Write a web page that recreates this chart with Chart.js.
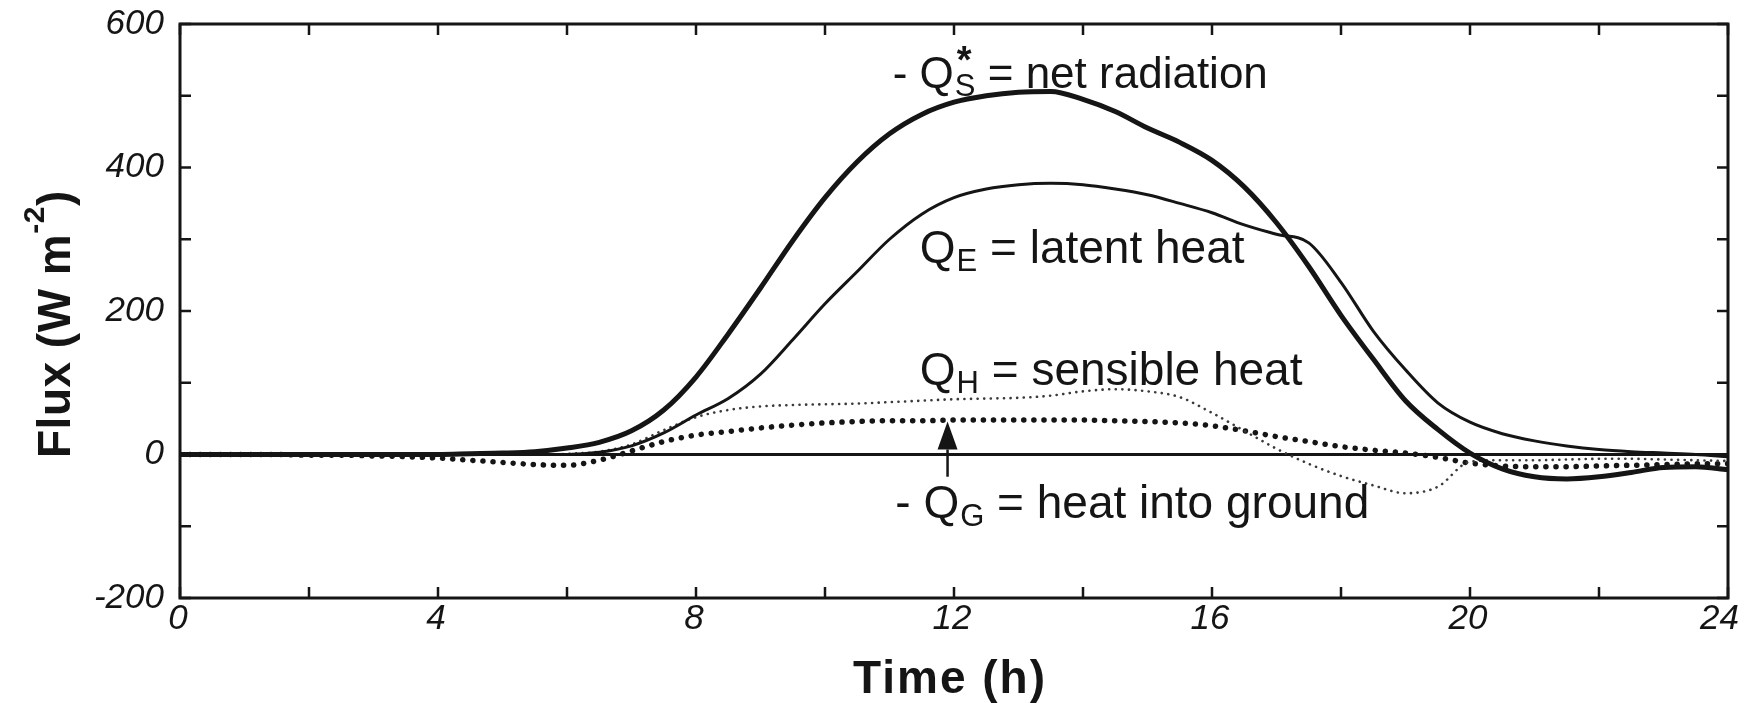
<!DOCTYPE html>
<html>
<head>
<meta charset="utf-8">
<style>
  html, body { margin: 0; padding: 0; background: #ffffff; }
  #wrap { width: 1745px; height: 703px; }
</style>
<script src="https://cdn.jsdelivr.net/npm/chart.js@4.4.1/dist/chart.umd.min.js"></script>
</head>
<body>
<div id="wrap"><canvas id="c" width="1745" height="703"></canvas></div>
<script>
// ---- data ----
const hours = [0,0.5,1,1.5,2,2.5,3,3.5,4,4.5,5,5.5,6,6.5,7,7.5,8,8.5,9,9.5,10,10.5,11,11.5,12,12.5,13,13.5,14,14.5,15,15.5,16,16.5,17,17.5,18,18.5,19,19.5,20,20.5,21,21.5,22,22.5,23,23.5,24];
const netRadiation = [0,0,0,0,0,0,0,0,0,1,2,4,9,17,33,62,108,168,232,298,358,408,447,474,491,500,505,506,495,478,455,435,410,373,323,262,194,133,75,35,2,-20,-31,-34,-31,-25,-18,-17,-21];
const latentHeat = [0,0,0,0,0,0,0,0,0,0,0,0,0,3,12,30,55,78,112,160,210,255,300,335,358,370,376,378,376,370,362,350,337,320,307,295,240,172,118,72,45,29,19,12,7,4,2,0,-3];
const sensibleHeat = [0,0,0,0,0,0,0,0,0,0,0,0,1,4,14,34,52,62,67,69,70,71,73,75,77,78,79,82,88,91,88,80,58,33,8,-13,-30,-43,-54,-45,-10,-8,-8,-7,-6,-6,-7,-8,-9];
const groundHeat = [0,0,0,0,-1,-1,-2,-3,-5,-8,-11,-14,-15,-8,5,18,27,32,37,41,44,46,47,47,48,48,48,48,48,47,46,44,40,33,25,18,11,6,2,-4,-12,-16,-17,-17,-16,-15,-14,-13,-13];
const xTickLabels = [0,4,8,12,16,20,24];
const yTickLabels = [-200,0,200,400,600];

// annotation texts, anchored in data units (hour, flux)
const labelNet    = {x: 11.05, y: 511, pre: '- Q', sub: 'S', post: ' = net radiation', star: true};
const labelLatent = {x: 11.47, y: 267, pre: 'Q', sub: 'E', post: ' = latent heat'};
const labelSens   = {x: 11.47, y: 97,  pre: 'Q', sub: 'H', post: ' = sensible heat'};
const labelGround = {x: 11.09, y: -88, pre: '- Q', sub: 'G', post: ' = heat into ground'};
const arrowQG = {x: 11.9, from: -31, base: 7, tip: 46};

const INK = '#151515';
const pts = arr => hours.map((h, i) => ({x: h, y: arr[i]}));
const FAM = '"Liberation Sans", Arial, sans-serif';

const decor = {
  id: 'decor',
  beforeDatasetsDraw(chart) {
    const {ctx, chartArea: a, scales: {x, y}} = chart;
    ctx.save();
    ctx.strokeStyle = INK; ctx.lineWidth = 3;
    const y0 = y.getPixelForValue(0);
    ctx.beginPath(); ctx.moveTo(a.left, y0); ctx.lineTo(a.right, y0); ctx.stroke();
    ctx.restore();
  },
  afterDraw(chart) {
    const {ctx, chartArea: a, scales: {x, y}} = chart;
    ctx.save();
    ctx.strokeStyle = INK; ctx.fillStyle = INK;
    // frame
    ctx.lineWidth = 3;
    ctx.strokeRect(a.left, a.top, a.right - a.left, a.bottom - a.top);
    // inward ticks
    ctx.lineWidth = 2.5;
    const tl = 11;
    for (let h = x.min; h <= x.max; h += 2) {
      const px = x.getPixelForValue(h);
      ctx.beginPath();
      ctx.moveTo(px, a.bottom); ctx.lineTo(px, a.bottom - tl);
      ctx.moveTo(px, a.top); ctx.lineTo(px, a.top + tl);
      ctx.stroke();
    }
    for (let v = y.min; v <= y.max; v += 100) {
      const py = y.getPixelForValue(v);
      ctx.beginPath();
      ctx.moveTo(a.left, py); ctx.lineTo(a.left + tl, py);
      ctx.moveTo(a.right, py); ctx.lineTo(a.right - tl, py);
      ctx.stroke();
    }
    // x tick labels (kept inside the page at the right edge)
    ctx.font = 'italic 35px ' + FAM;
    ctx.textAlign = 'center'; ctx.textBaseline = 'alphabetic';
    for (const v of xTickLabels) {
      const s = String(v);
      const w = ctx.measureText(s).width;
      const cx = Math.min(x.getPixelForValue(v) - 2, chart.width - w / 2 - 6);
      ctx.fillText(s, cx, a.bottom + 31);
    }

    // arrow for -QG
    const ax = x.getPixelForValue(arrowQG.x);
    const yFrom = y.getPixelForValue(arrowQG.from);
    const yBase = y.getPixelForValue(arrowQG.base);
    const yTip = y.getPixelForValue(arrowQG.tip);
    ctx.lineWidth = 2.5;
    ctx.beginPath(); ctx.moveTo(ax, yFrom); ctx.lineTo(ax, yBase); ctx.stroke();
    ctx.beginPath();
    ctx.moveTo(ax, yTip); ctx.lineTo(ax - 10, yBase); ctx.lineTo(ax + 10, yBase); ctx.closePath();
    ctx.fill();

    // annotation labels
    const subFont = '31px ' + FAM;
    ctx.textBaseline = 'alphabetic'; ctx.textAlign = 'left';
    for (const L of [labelNet, labelLatent, labelSens, labelGround]) {
      const mainFont = (L.star ? '44px ' : '46px ') + FAM;
      let px = x.getPixelForValue(L.x);
      const py = y.getPixelForValue(L.y);
      ctx.font = mainFont; ctx.fillText(L.pre, px, py); px += ctx.measureText(L.pre).width + 1;
      ctx.font = subFont; ctx.fillText(L.sub, px, py + 8);
      const sw = ctx.measureText(L.sub).width;
      if (L.star) {
        ctx.font = 'bold 38px ' + FAM;
        ctx.fillText('*', px + 2, py - 15);
      }
      px += sw;
      ctx.font = mainFont; ctx.fillText(L.post, px, py);
    }

    // x axis title
    ctx.font = 'bold 46px ' + FAM;
    ctx.letterSpacing = '2px';
    ctx.textAlign = 'center';
    ctx.fillText('Time (h)', (a.left + a.right) / 2 - 4, 693);

    // y axis title (rotated, with superscript)
    ctx.save();
    ctx.translate(70, 458);
    ctx.rotate(-Math.PI / 2);
    ctx.textAlign = 'left';
    ctx.letterSpacing = '0.5px';
    let tx = 0;
    ctx.font = 'bold 46px ' + FAM;
    ctx.fillText('Flux (W m', tx, 0); tx += ctx.measureText('Flux (W m').width;
    ctx.font = 'bold 30px ' + FAM;
    ctx.fillText('-2', tx, -26); tx += ctx.measureText('-2').width;
    ctx.font = 'bold 46px ' + FAM;
    ctx.fillText(')', tx, 0);
    ctx.restore();

    ctx.restore();
  }
};

const tickFont = {family: FAM, size: 35, style: 'italic'};

new Chart(document.getElementById('c'), {
  type: 'line',
  data: {
    datasets: [
      {label: 'net radiation', data: pts(netRadiation), borderColor: INK, borderWidth: 5,
       pointRadius: 0, cubicInterpolationMode: 'monotone', borderCapStyle: 'round', borderJoinStyle: 'round', order: 1},
      {label: 'latent heat', data: pts(latentHeat), borderColor: INK, borderWidth: 3,
       pointRadius: 0, cubicInterpolationMode: 'monotone', order: 2},
      {label: 'sensible heat', data: pts(sensibleHeat), borderColor: '#3a3a3a', borderWidth: 2.6,
       borderDash: [0.1, 6.5], borderCapStyle: 'round',
       pointRadius: 0, cubicInterpolationMode: 'monotone', order: 3},
      {label: 'heat into ground', data: pts(groundHeat), borderColor: INK, borderWidth: 5.5,
       borderDash: [0.1, 10], borderCapStyle: 'round',
       pointRadius: 0, cubicInterpolationMode: 'monotone', order: 4}
    ]
  },
  options: {
    responsive: false,
    animation: false,
    events: [],
    layout: {padding: {top: 24, right: 17, left: 0, bottom: 0}},
    plugins: {legend: {display: false}, tooltip: {enabled: false}, title: {display: false}},
    scales: {
      x: {
        type: 'linear', min: 0, max: 24,
        grid: {display: false}, border: {display: false},
        ticks: {display: false, stepSize: 4},
        afterFit: s => { s.height = 105; s.paddingLeft = 0; s.paddingRight = 0; }
      },
      y: {
        min: -200, max: 600,
        grid: {display: false}, border: {display: false},
        ticks: {stepSize: 200, padding: 8, color: INK, font: tickFont,
                callback: v => yTickLabels.includes(v) ? String(v) : ''},
        afterFit: s => { s.width = 180; s.paddingTop = 0; s.paddingBottom = 0; }
      }
    }
  },
  plugins: [decor]
});
</script>
</body>
</html>
